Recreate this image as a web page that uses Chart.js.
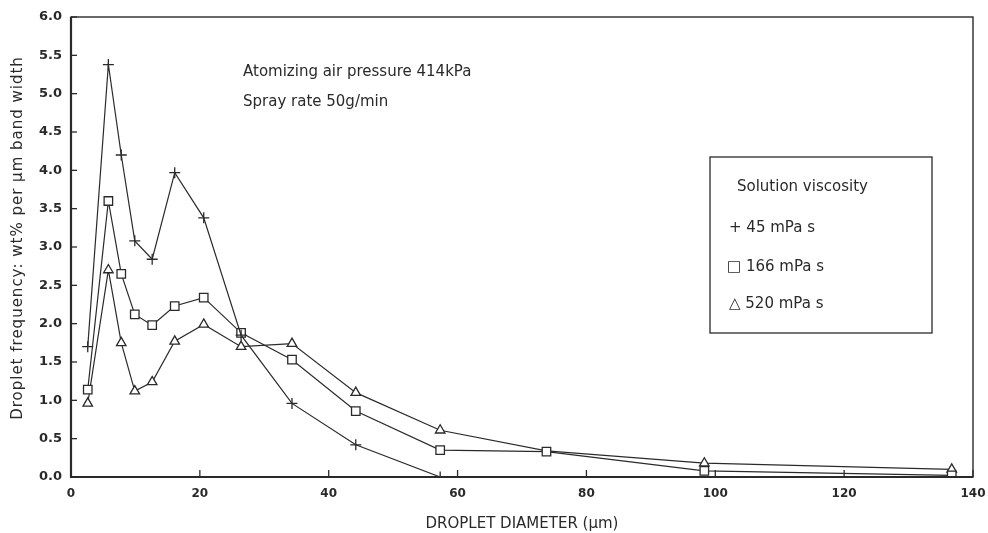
<!DOCTYPE html>
<html>
<head>
<meta charset="utf-8">
<script src="https://cdn.jsdelivr.net/npm/chart.js@4.4.0/dist/chart.umd.min.js"></script>
<style>
  html, body { margin: 0; padding: 0; background: #fff; }
  #wrap { width: 988px; height: 533px; }
</style>
</head>
<body>
<div id="wrap"><canvas id="chart" width="988" height="533"></canvas></div>
<script>
// droplet size bands (µm), shared by all three runs
const diameters = [2.6, 5.8, 7.8, 9.9, 12.6, 16.1, 20.6, 26.4, 34.3, 44.2, 57.3, 73.8, 98.3, 136.7];

// wt% per µm band width
const visc45 = [1.7, 5.38, 4.2, 3.08, 2.84, 3.97, 3.38, 1.85, 0.96, 0.42, 0.0];
const visc166 = [1.14, 3.6, 2.65, 2.12, 1.98, 2.23, 2.34, 1.88, 1.53, 0.86, 0.35, 0.33, 0.08, 0.02];
const visc520 = [0.96, 2.7, 1.75, 1.12, 1.24, 1.77, 1.99, 1.7, 1.74, 1.1, 0.61, 0.34, 0.18, 0.1];
const hiddenMarks520 = [11]; // 520 mPa s passes under the square at 74 µm

const yTicks = [0, 0.5, 1, 1.5, 2, 2.5, 3, 3.5, 4, 4.5, 5, 5.5, 6];
const xTicks = [0, 20, 40, 60, 80, 100, 120, 140];

const yTitle = 'Droplet frequency: wt% per \u03bcm band width';
const xTitle = 'DROPLET DIAMETER (\u03bcm)';
const notes = ['Atomizing air pressure 414kPa', 'Spray rate 50g/min'];
const legendTitle = 'Solution viscosity';
const legendItems = ['+ 45 mPa s', '\u25A1 166 mPa s', '\u25B3 520 mPa s'];

const ink = '#2a2a2a';
const FONT = '"DejaVu Sans", "Liberation Sans", sans-serif';

function toPoints(vals) {
  return vals.map((v, i) => ({ x: diameters[i], y: v }));
}

// inward ticks, frame, y title, notes and the boxed key
const frame = {
  id: 'frame',
  afterDraw(chart) {
    const { ctx, chartArea: a, scales } = chart;
    ctx.save();
    ctx.strokeStyle = ink;
    ctx.lineWidth = 1.4;
    ctx.strokeRect(a.left, a.top, a.right - a.left, a.bottom - a.top);
    ctx.lineWidth = 2.2;
    ctx.beginPath();
    ctx.moveTo(a.left, a.top);
    ctx.lineTo(a.left, a.bottom);
    ctx.lineTo(a.right, a.bottom);
    ctx.stroke();

    ctx.lineWidth = 1.3;
    yTicks.forEach(v => {
      const y = scales.y.getPixelForValue(v);
      ctx.beginPath();
      ctx.moveTo(a.left, y);
      ctx.lineTo(a.left + 6, y);
      ctx.stroke();
    });
    xTicks.forEach(v => {
      const x = scales.x.getPixelForValue(v);
      ctx.beginPath();
      ctx.moveTo(x, a.bottom);
      ctx.lineTo(x, a.bottom - 7);
      ctx.stroke();
    });

    ctx.fillStyle = ink;
    ctx.textBaseline = 'middle';

    // rotated y title
    ctx.save();
    ctx.translate(18, 238);
    ctx.rotate(-Math.PI / 2);
    ctx.textAlign = 'center';
    ctx.font = '15px ' + FONT;
    ctx.letterSpacing = '1px';
    ctx.fillText(yTitle, 0, 0);
    ctx.restore();

    ctx.textAlign = 'left';
    ctx.font = '15px ' + FONT;
    ctx.fillText(notes[0], 243, 72);
    ctx.fillText(notes[1], 243, 102);

    ctx.lineWidth = 1.3;
    ctx.strokeRect(710, 157, 222, 176);
    ctx.fillText(legendTitle, 737, 187);
    ctx.fillText(legendItems[0], 729, 228);
    ctx.fillText(legendItems[1], 727, 267);
    ctx.fillText(legendItems[2], 729, 304);
    ctx.restore();
  }
};

const lineStyle = {
  borderColor: ink,
  borderWidth: 1.2,
  pointBackgroundColor: '#fff',
  pointBorderColor: ink,
  pointBorderWidth: 1.3,
  tension: 0,
  fill: false
};

new Chart(document.getElementById('chart'), {
  type: 'scatter',
  data: {
    datasets: [
      Object.assign({ label: '45 mPa s', data: toPoints(visc45), pointStyle: 'cross', pointRadius: 5.5, pointBorderWidth: 1.4, showLine: true }, lineStyle),
      Object.assign({ label: '166 mPa s', data: toPoints(visc166), pointStyle: 'rect', pointRadius: 6, showLine: true }, lineStyle),
      Object.assign({
        label: '520 mPa s', data: toPoints(visc520), pointStyle: 'triangle', showLine: true,
        pointRadius: visc520.map((v, i) => hiddenMarks520.includes(i) ? 0 : 5.5)
      }, lineStyle)
    ]
  },
  options: {
    responsive: false,
    animation: false,
    layout: { padding: { top: 17, right: 15, left: 0, bottom: 0 } },
    plugins: {
      legend: { display: false },
      tooltip: { enabled: false }
    },
    scales: {
      x: {
        type: 'linear',
        min: 0,
        max: 140,
        afterFit: s => { s.height = 56; s.paddingLeft = 0; s.paddingRight = 0; },
        afterBuildTicks: s => { s.ticks = xTicks.map(v => ({ value: v })); },
        grid: { display: false, drawTicks: false },
        border: { display: false },
        ticks: {
          padding: 10,
          color: ink,
          font: { family: FONT, size: 12, weight: 'bold' }
        },
        title: {
          display: true,
          text: xTitle,
          color: ink,
          padding: { top: 6, bottom: 0 },
          font: { family: FONT, size: 15 }
        }
      },
      y: {
        type: 'linear',
        min: 0,
        max: 6,
        afterFit: s => { s.width = 71; s.paddingTop = 0; s.paddingBottom = 0; },
        afterBuildTicks: s => { s.ticks = yTicks.map(v => ({ value: v })); },
        grid: { display: false, drawTicks: false },
        border: { display: false },
        ticks: {
          padding: 9,
          color: ink,
          callback: v => v.toFixed(1),
          font: { family: FONT, size: 13, weight: 'bold' }
        }
      }
    }
  },
  plugins: [frame]
});
</script>
</body>
</html>
